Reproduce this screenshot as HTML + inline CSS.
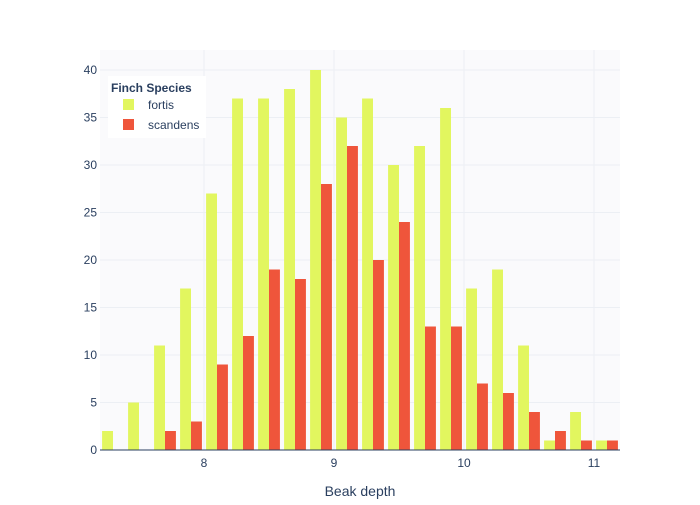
<!DOCTYPE html>
<html><head><meta charset="utf-8"><style>
body{margin:0;background:#fff;font-family:"Liberation Sans",sans-serif;}
svg text{font-family:"Liberation Sans",sans-serif;fill:#2a3f5f;}
</style></head><body>
<svg id="chart" width="700" height="500" xmlns="http://www.w3.org/2000/svg">
<rect x="0" y="0" width="700" height="500" fill="#fff"/>
<rect x="100" y="50" width="520" height="400" fill="#fafafc"/>
<g id="grid"></g><g id="bars"></g><g id="ticks"></g>
<text x="360" y="496" text-anchor="middle" font-size="14">Beak depth</text>
<g>
<rect x="108" y="76" width="98" height="62" fill="#fff"/>
<text x="111" y="92" font-size="12" font-weight="bold">Finch Species</text>
<g><rect x="123" y="99" width="11" height="11" fill="#e2f65f"/><text x="148" y="109" font-size="12">fortis</text></g>
<g><rect x="123" y="119" width="11" height="11" fill="#ef553b"/><text x="148" y="129" font-size="12">scandens</text></g>
</g>
</svg>
<script>
const binStarts=[7.2,7.4,7.6,7.8,8.0,8.2,8.4,8.6,8.8,9.0,9.2,9.4,9.6,9.8,10.0,10.2,10.4,10.6,10.8,11.0];
const fortis=[2,5,11,17,27,37,37,38,40,35,37,30,32,36,17,19,11,1,4,1];
const scandens=[0,0,2,3,9,12,19,18,28,32,20,24,13,13,7,6,4,2,1,1];
const yTicks=[0,5,10,15,20,25,30,35,40];
const xTicks=[8,9,10,11];
const binWidth=0.2;
const NS="http://www.w3.org/2000/svg";
const x=v=>100+(v-7.2)*130;
const y=v=>450-v*9.5;
function mk(tag,attrs,parent){const e=document.createElementNS(NS,tag);for(const k in attrs)e.setAttribute(k,attrs[k]);document.getElementById(parent).appendChild(e);return e;}
yTicks.forEach(t=>{
 if(t>0){const l=mk('line',{x1:100,x2:620,y1:y(t),y2:y(t),stroke:'#eceff4','stroke-width':1},'grid');
 
 }
 const tx=mk('text',{x:97,y:y(t)+4,'text-anchor':'end','font-size':12},'ticks');tx.textContent=t;
 
 
});
xTicks.forEach(t=>{
 const l=mk('line',{x1:x(t),x2:x(t),y1:50,y2:450,stroke:'#eceff4','stroke-width':1},'grid');
 
 
 const tx=mk('text',{x:x(t),y:467,'text-anchor':'middle','font-size':12},'ticks');tx.textContent=t;
 
 
});
const bw=130*binWidth, gap=bw*0.08, w=(bw-2*gap)/2;
binStarts.forEach((b,i)=>{
 const x0=x(b)+gap;
 if(fortis[i]>0){const r=mk('rect',{x:x0,y:y(fortis[i]),width:w,height:450-y(fortis[i]),fill:'#e2f65f'},'bars');
 
 }
 if(scandens[i]>0){const r=mk('rect',{x:x0+w,y:y(scandens[i]),width:w,height:450-y(scandens[i]),fill:'#ef553b'},'bars');
 
 }
});
mk('line',{x1:100,x2:620,y1:450,y2:450,stroke:'#2a3f5f','stroke-width':1},'ticks');
</script>
</body></html>
